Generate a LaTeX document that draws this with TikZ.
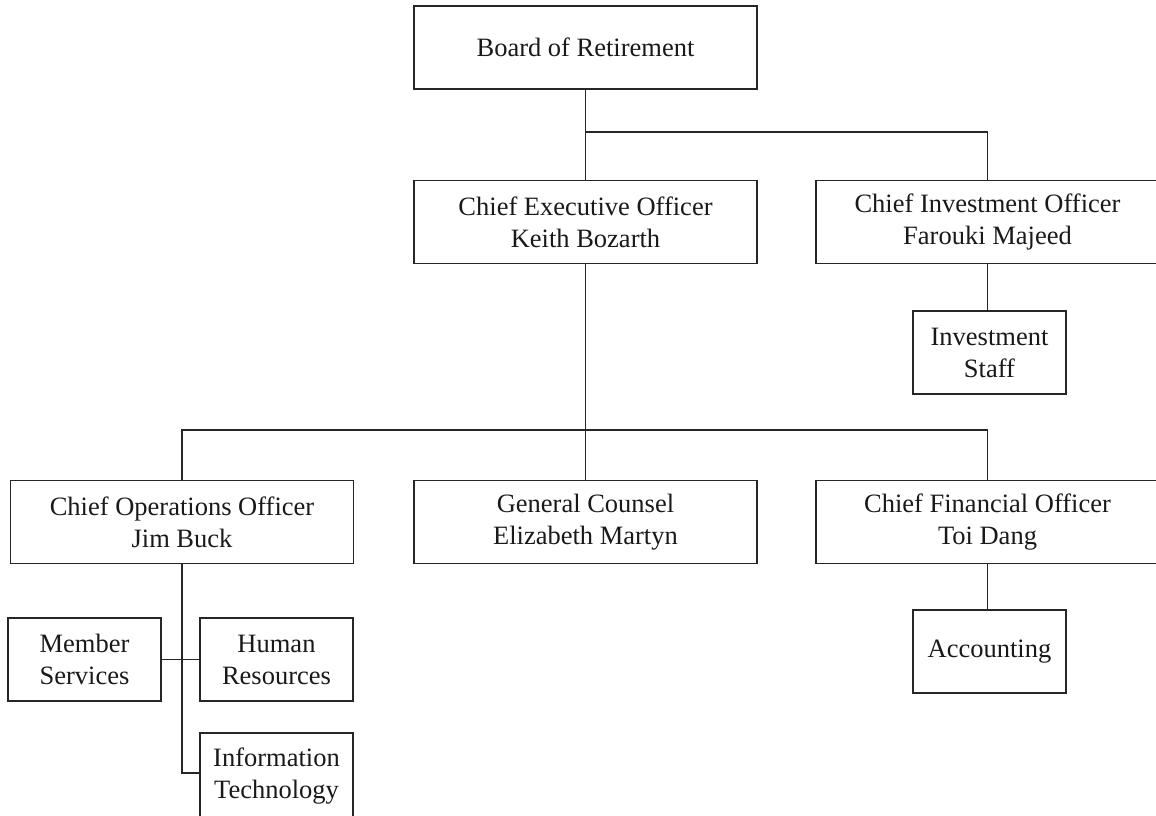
\documentclass[tikz,border=0pt]{standalone}
\usepackage{fontspec}
\setmainfont{Liberation Serif}
\usepackage{tikz}
\tikzset{%
  org/.style = {
    x=0.5pt, y=-0.5pt,
    line width=0.75pt, draw=black!85,
    every node/.style = {shape=rectangle, draw=black!85, align=center,
      inner sep=0pt, minimum height=41.5pt, text=black!90,
      font=\fontsize{13.25}{16}\selectfont},
    wide/.style = {minimum width=171.5pt},
    narrow/.style = {minimum width=76.5pt}
  }
}

\begin{document}
\begin{tikzpicture}[org]
  \useasboundingbox (0,0) rectangle (1156,815);
  % top level
  \node[wide] (board) at (585.5,47.5) {Board of Retirement};
  \node[wide] (ceo) at (585.5,222) {Chief Executive Officer\\Keith Bozarth};
  \node[wide] (cio) at (987.5,222) {Chief Investment Officer\\Farouki Majeed};
  \node[narrow] (invstaff) at (989.5,352.5) {Investment\\Staff};
  % officers under the CEO
  \node[wide] (coo) at (182,522) {Chief Operations Officer\\Jim Buck};
  \node[wide] (counsel) at (585.5,522) {General Counsel\\Elizabeth Martyn};
  \node[wide] (cfo) at (987.5,522) {Chief Financial Officer\\Toi Dang};
  \node[narrow] (acct) at (989.5,651.5) {Accounting};
  % operations units
  \node[narrow] (members) at (84.5,659.5) {Member\\Services};
  \node[narrow] (hr) at (276.5,659.5) {Human\\Resources};
  \node[narrow, minimum height=43.5pt] (it) at (276.5,776.5) {Information\\Technology};

  \coordinate (j1) at (585.5,132);
  \coordinate (j2) at (585.5,430);

  \draw (board) -- (ceo);
  \draw (j1) -| (cio);
  \draw (cio.south) -- (cio.south |- invstaff.north);
  \draw (ceo) -- (counsel);
  \draw (coo.north) |- (j2) -| (cfo.north);
  \draw (cfo.south) -- (cfo.south |- acct.north);
  \draw (coo.south) |- ([yshift=1.75pt]it.west);
  \draw (members) -- (hr);
\end{tikzpicture}
\end{document}
